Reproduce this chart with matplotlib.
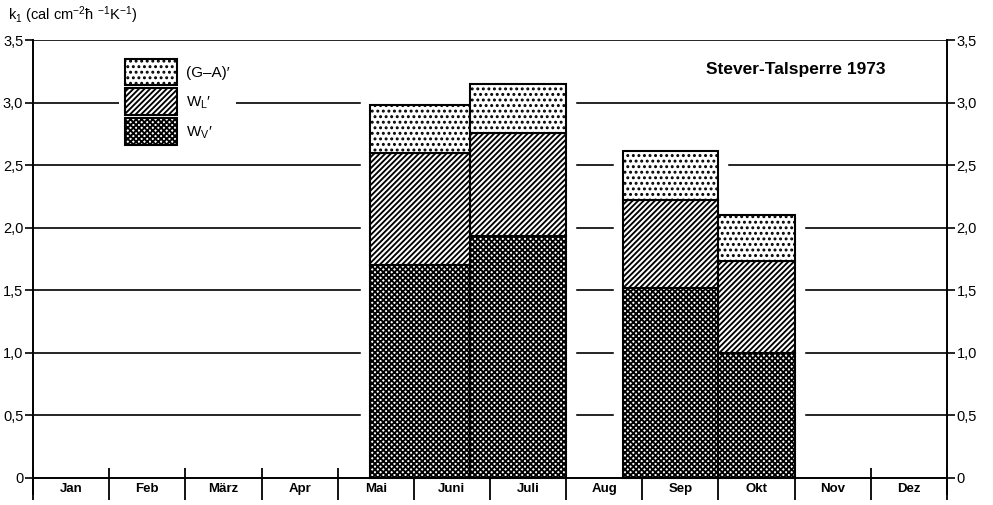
import matplotlib
matplotlib.use("Agg")
import matplotlib.pyplot as plt
import numpy as np
import pandas as pd

plt.rcParams['font.family'] = ['Liberation Sans', 'DejaVu Sans']
plt.rcParams['hatch.color'] = 'black'
plt.rcParams['hatch.linewidth'] = 1.35
plt.rcParams['mathtext.fontset'] = 'custom'
plt.rcParams['mathtext.rm'] = 'Liberation Sans'
plt.rcParams['mathtext.it'] = 'Liberation Sans'

# ---- data ----
months = ['Jan', 'Feb', 'März', 'Apr', 'Mai', 'Juni', 'Juli', 'Aug', 'Sep', 'Okt', 'Nov', 'Dez']
period_start = ['1973-05-14', '1973-06-23', '1973-08-24', '1973-10-01']
period_end = ['1973-06-23', '1973-08-01', '1973-10-01', '1973-11-01']
wv = [1.70, 1.93, 1.52, 1.00]      # W_V'
wl = [0.90, 0.83, 0.70, 0.73]      # W_L'
ga = [0.38, 0.39, 0.39, 0.37]      # (G-A)'
yticks = [0, 0.5, 1.0, 1.5, 2.0, 2.5, 3.0, 3.5]
ytick_labels = ['0', '0,5', '1,0', '1,5', '2,0', '2,5', '3,0', '3,5']
legend_labels = ['(G\u2013A)\u2032', 'W$_\\mathregular{L}$\u2032', 'W$_\\mathregular{V}$\u2032']
title = 'Stever-Talsperre 1973'
unit_label = ('k$_\\mathregular{1}$ (cal cm$^\\mathregular{-2}$\u0127 '
              '$^\\mathregular{-1}$K$^\\mathregular{-1}$)')


def month_pos(d):
    d = pd.Timestamp(d)
    return (d.month - 1) + (d.day - 1) / d.days_in_month


x0 = np.array([month_pos(d) for d in period_start])
x1 = np.array([month_pos(d) for d in period_end])
width = x1 - x0
wv = np.array(wv)
wl = np.array(wl)
ga = np.array(ga)
total = wv + wl + ga

fig = plt.figure(figsize=(9.93, 5.05), dpi=100)
ax = fig.add_axes([33 / 993, 1 - 494 / 505, (947 - 33) / 993, 454 / 505])
ax.set_xlim(0, 12)
ax.set_ylim(-0.13, 3.5)

# horizontal lines
for y in yticks[1:]:
    ax.axhline(y, color='black', lw=1.2, zorder=1)

# white gaps around bars
ax.bar(x0, total, width, align='edge', color='white', edgecolor='white',
       linewidth=14, zorder=1.5)

kw = dict(align='edge', facecolor='white', edgecolor='black', linewidth=1.5, zorder=3)
b_wv = ax.bar(x0, wv, width, bottom=0, hatch='xxxxxx', **kw)
b_wl = ax.bar(x0, wl, width, bottom=wv, hatch='//////', **kw)
b_ga = ax.bar(x0, ga, width, bottom=wv + wl, hatch='...', **kw)

# spines
ax.spines['top'].set_visible(False)
ax.spines['bottom'].set_position(('data', 0))
for s in ['left', 'right', 'bottom']:
    ax.spines[s].set_linewidth(1.4)

# y ticks both sides
ax.set_yticks(yticks)
ax.set_yticklabels(ytick_labels)
ax.tick_params(axis='y', which='major', left=True, right=True, labelleft=True,
               labelright=True, direction='out', length=6, width=1.2,
               labelsize=10.5, pad=1)

# x ticks: month boundaries and labels at month centres
edges = np.arange(len(months) + 1)
ax.set_xticks(edges)
ax.set_xticklabels([])
ax.tick_params(axis='x', which='major', direction='out', length=16, width=1.3)
ax.vlines(edges, 0, 0.08, color='black', lw=1.3, zorder=2.5)
ax.set_xticks(edges[:-1] + 0.5, minor=True)
ax.set_xticklabels(months, minor=True, fontweight='bold', fontsize=9.5)
ax.tick_params(axis='x', which='minor', length=0, pad=4)

# legend
leg = ax.legend([b_ga, b_wl, b_wv], legend_labels,
                loc='upper left', bbox_to_anchor=(0.094, 0.972), borderaxespad=0,
                borderpad=0.4, handlelength=3.4, handleheight=2.3, labelspacing=0.2,
                handletextpad=0.6, fontsize=11, frameon=True, fancybox=False,
                framealpha=1, facecolor='white', edgecolor='none')
leg.set_zorder(4)

# title
ax.text(0.834, 0.935, title, transform=ax.transAxes, ha='center', va='center',
        fontsize=12.5, fontweight='bold')

# unit label
fig.text(8 / 993, 1 - 15 / 505, unit_label, ha='left', va='center', fontsize=10.5)

fig.savefig('out.png', dpi=100)
